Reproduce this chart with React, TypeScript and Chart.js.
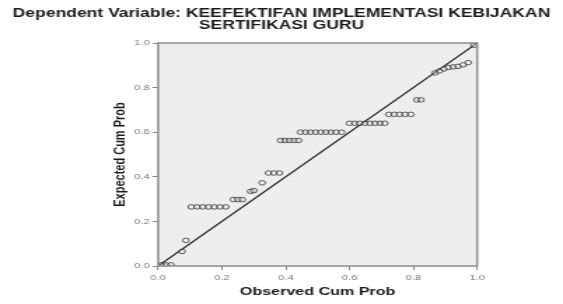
import React, { useEffect, useRef } from "react";
import { Chart, registerables } from "chart.js";

Chart.register(...registerables);

const titleLines = ["Dependent Variable: KEEFEKTIFAN IMPLEMENTASI KEBIJAKAN", "SERTIFIKASI GURU"];
const xAxisTitle = "Observed Cum Prob";
const yAxisTitle = "Expected Cum Prob";
const tickValues = [0, 0.2, 0.4, 0.6, 0.8, 1.0];

const observed = [
  0.010, 0.025, 0.040, 0.075, 0.087,
  0.104, 0.122, 0.140, 0.158, 0.176, 0.194, 0.212,
  0.236, 0.250, 0.264,
  0.290, 0.300, 0.326,
  0.346, 0.363, 0.380,
  0.384, 0.398, 0.412, 0.426, 0.440,
  0.446, 0.462, 0.478, 0.494, 0.510, 0.526, 0.542, 0.558, 0.575,
  0.600, 0.616, 0.632, 0.648, 0.664, 0.680, 0.696, 0.710,
  0.723, 0.740, 0.757, 0.774, 0.792,
  0.811, 0.824,
  0.868, 0.882, 0.896, 0.910, 0.925, 0.940, 0.956, 0.972,
  0.990,
];
const expected = [
  0.005, 0.005, 0.005, 0.065, 0.115,
  0.265, 0.265, 0.265, 0.265, 0.265, 0.265, 0.265,
  0.298, 0.298, 0.298,
  0.335, 0.338, 0.373,
  0.417, 0.417, 0.417,
  0.563, 0.563, 0.563, 0.563, 0.563,
  0.600, 0.600, 0.600, 0.600, 0.600, 0.600, 0.600, 0.600, 0.600,
  0.640, 0.640, 0.640, 0.640, 0.640, 0.640, 0.640, 0.640,
  0.680, 0.680, 0.680, 0.680, 0.680,
  0.745, 0.745,
  0.866, 0.875, 0.884, 0.890, 0.893, 0.895, 0.902, 0.912,
  0.990,
];
const diagonal = [0, 1];

const CANVAS_W = 402;
const CANVAS_H = 304;

const framePlugin = {
  id: "frame",
  beforeDraw(chart: any) {
    const { ctx, chartArea } = chart;
    ctx.save();
    ctx.fillStyle = "#eeeeee";
    ctx.fillRect(chartArea.left, chartArea.top, chartArea.right - chartArea.left, chartArea.bottom - chartArea.top);
    ctx.restore();
  },
  afterDatasetsDraw(chart: any) {
    const { ctx, chartArea } = chart;
    ctx.save();
    ctx.strokeStyle = "#8c8c8c";
    ctx.lineWidth = 1.5;
    ctx.strokeRect(chartArea.left, chartArea.top, chartArea.right - chartArea.left, chartArea.bottom - chartArea.top);
    ctx.restore();
  },
};

export default function App() {
  const ref = useRef<HTMLCanvasElement | null>(null);

  useEffect(() => {
    if (!ref.current) return;
    const points = observed.map((x, i) => ({ x, y: expected[i] }));
    const line = diagonal.map((v) => ({ x: v, y: v }));
    const tickFont = { family: "'Liberation Sans', Arial, sans-serif", size: 8 };
    const chart = new Chart(ref.current, {
      type: "scatter",
      data: {
        datasets: [
          {
            label: "line",
            data: line,
            showLine: true,
            borderColor: "#1a1a1a",
            borderWidth: 1.1,
            pointRadius: 0,
            order: 2,
          },
          {
            label: "points",
            data: points,
            pointRadius: 2.3,
            pointBorderWidth: 0.8,
            pointBorderColor: "#333333",
            pointBackgroundColor: "rgba(238,238,238,0.3)",
            order: 1,
          },
        ],
      },
      options: {
        animation: false,
        responsive: false,
        devicePixelRatio: 1,
        layout: { padding: 0 },
        plugins: {
          legend: { display: false },
          tooltip: { enabled: false },
          title: {
            display: true,
            text: titleLines,
            color: "#1a1a1a",
            font: { family: "'Liberation Sans', Arial, sans-serif", size: 12.5, weight: "bold", lineHeight: 1.0 },
            padding: { top: 7, bottom: 11 },
          },
        },
        scales: {
          x: {
            type: "linear",
            min: 0,
            max: 1,
            afterFit: (s: any) => { s.height = 38; },
            afterBuildTicks: (s: any) => { s.ticks = tickValues.map((v) => ({ value: v })); },
            ticks: {
              callback: (v: any) => Number(v).toFixed(1),
              color: "#777777",
              font: tickFont,
              padding: 3,
              maxRotation: 0,
            },
            grid: { drawOnChartArea: false, drawTicks: true, tickLength: 4, color: "#888888" },
            border: { display: false },
            title: {
              display: true,
              text: xAxisTitle,
              color: "#1a1a1a",
              font: { family: "'Liberation Sans', Arial, sans-serif", size: 11.5, weight: "bold", lineHeight: 1.2 },
              padding: { top: 0, bottom: 5 },
            },
          },
          y: {
            type: "linear",
            position: "left",
            min: 0,
            max: 1,
            afterFit: (s: any) => { s.width = 112.9; },
            afterBuildTicks: (s: any) => { s.ticks = tickValues.map((v) => ({ value: v })); },
            ticks: {
              callback: (v: any) => Number(v).toFixed(1),
              color: "#777777",
              font: tickFont,
              padding: 2,
            },
            grid: { drawOnChartArea: false, drawTicks: true, tickLength: 4, color: "#888888" },
            border: { display: false },
            title: {
              display: true,
              text: yAxisTitle,
              color: "#1a1a1a",
              font: { family: "'Liberation Sans', Arial, sans-serif", size: 11, weight: "bold", lineHeight: 1.2 },
              padding: { top: 79.1, bottom: 0 },
            },
          },
          yRight: {
            type: "linear",
            position: "right",
            min: 0,
            max: 1,
            afterFit: (s: any) => { s.width = 61.3; },
            ticks: { display: false },
            grid: { display: false },
            border: { display: false },
          },
        },
      },
      plugins: [framePlugin],
    } as any);
    return () => chart.destroy();
  }, []);

  return (
    <div style={{ position: "fixed", left: 0, top: 0, width: 563, height: 304, background: "#ffffff" }}>
      <canvas
        ref={ref}
        width={CANVAS_W}
        height={CANVAS_H}
        style={{ width: "563px", height: "304px", display: "block" }}
      />
    </div>
  );
}
